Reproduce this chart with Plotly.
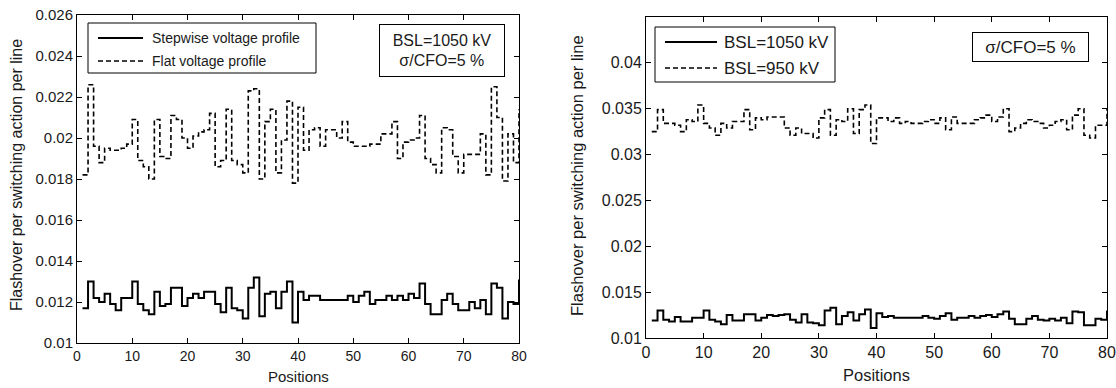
import plotly.graph_objects as go

# ---------------- data ----------------
positions = list(range(1, 81))

flat_profile = [
    0.0182, 0.0226, 0.0196, 0.0188, 0.0195, 0.0194, 0.0194, 0.0195, 0.0197, 0.0209,
    0.0189, 0.0186, 0.0180, 0.0209, 0.0191, 0.0190, 0.0211, 0.0209, 0.0200, 0.0195,
    0.0201, 0.0203, 0.0204, 0.0212, 0.0186, 0.0189, 0.0214, 0.0189, 0.0187, 0.0183,
    0.0223, 0.0224, 0.0180, 0.0208, 0.0214, 0.0183, 0.0199, 0.0218, 0.0178, 0.0215,
    0.0194, 0.0204, 0.0205, 0.0196, 0.0204, 0.0204, 0.0200, 0.0208, 0.0198, 0.0196,
    0.0196, 0.0196, 0.0197, 0.0197, 0.0202, 0.0202, 0.0208, 0.0190, 0.0198, 0.0199,
    0.0200, 0.0211, 0.0190, 0.0187, 0.0183, 0.0205, 0.0204, 0.0191, 0.0183, 0.0192,
    0.0192, 0.0192, 0.0202, 0.0182, 0.0225, 0.0210, 0.0179, 0.0202, 0.0188, 0.0214,
]

stepwise_profile = [
    0.0117, 0.0130, 0.0122, 0.0120, 0.0124, 0.0119, 0.0116, 0.0122, 0.0122, 0.0130,
    0.0119, 0.0116, 0.0114, 0.0125, 0.0118, 0.0119, 0.0127, 0.0127, 0.0118, 0.0122,
    0.0124, 0.0122, 0.0125, 0.0125, 0.0119, 0.0115, 0.0127, 0.0117, 0.0116, 0.0112,
    0.0127, 0.0132, 0.0113, 0.0124, 0.0125, 0.0117, 0.0125, 0.0130, 0.0110, 0.0125,
    0.0121, 0.0123, 0.0123, 0.0121, 0.0121, 0.0121, 0.0121, 0.0121, 0.0123, 0.0120,
    0.0123, 0.0125, 0.0119, 0.0121, 0.0121, 0.0123, 0.0121, 0.0123, 0.0121, 0.0124,
    0.0122, 0.0129, 0.0119, 0.0114, 0.0114, 0.0121, 0.0124, 0.0119, 0.0116, 0.0116,
    0.0120, 0.0117, 0.0121, 0.0114, 0.0129, 0.0127, 0.0112, 0.0120, 0.0119, 0.0131,
]

bsl_950 = [
    0.0325, 0.0349, 0.0334, 0.0334, 0.0332, 0.0325, 0.0338, 0.0336, 0.0354, 0.0334,
    0.0329, 0.0321, 0.0334, 0.0329, 0.0336, 0.0336, 0.0349, 0.0327, 0.0340, 0.0338,
    0.0341, 0.0341, 0.0341, 0.0329, 0.0321, 0.0329, 0.0323, 0.0323, 0.0318, 0.0340,
    0.0349, 0.0321, 0.0338, 0.0336, 0.0350, 0.0323, 0.0349, 0.0354, 0.0312, 0.0340,
    0.0340, 0.0336, 0.0340, 0.0334, 0.0336, 0.0334, 0.0334, 0.0336, 0.0338, 0.0334,
    0.0340, 0.0327, 0.0341, 0.0334, 0.0334, 0.0334, 0.0338, 0.0340, 0.0343, 0.0336,
    0.0341, 0.0350, 0.0325, 0.0329, 0.0334, 0.0338, 0.0336, 0.0334, 0.0329, 0.0332,
    0.0336, 0.0338, 0.0327, 0.0343, 0.0350, 0.0321, 0.0318, 0.0332, 0.0332, 0.0350,
]

bsl_1050 = [
    0.0119, 0.0130, 0.0120, 0.0118, 0.0123, 0.0118, 0.0118, 0.0122, 0.0122, 0.0130,
    0.0120, 0.0118, 0.0115, 0.0125, 0.0119, 0.0119, 0.0126, 0.0126, 0.0119, 0.0122,
    0.0125, 0.0124, 0.0125, 0.0126, 0.0120, 0.0117, 0.0126, 0.0117, 0.0116, 0.0114,
    0.0130, 0.0133, 0.0115, 0.0124, 0.0128, 0.0119, 0.0126, 0.0131, 0.0111, 0.0127,
    0.0123, 0.0124, 0.0122, 0.0122, 0.0122, 0.0122, 0.0122, 0.0124, 0.0122, 0.0121,
    0.0124, 0.0127, 0.0120, 0.0122, 0.0122, 0.0124, 0.0122, 0.0124, 0.0125, 0.0123,
    0.0126, 0.0129, 0.0121, 0.0115, 0.0115, 0.0121, 0.0124, 0.0120, 0.0119, 0.0121,
    0.0119, 0.0122, 0.0116, 0.0129, 0.0128, 0.0114, 0.0114, 0.0121, 0.0120, 0.0130,
]

x_ticks = [0, 10, 20, 30, 40, 50, 60, 70, 80]
x_ticktext = ["0", "10", "20", "30", "40", "50", "60", "70", "80"]
left_y_ticks = [0.01, 0.012, 0.014, 0.016, 0.018, 0.02, 0.022, 0.024, 0.026]
left_y_ticktext = ["0.01", "0.012", "0.014", "0.016", "0.018", "0.02", "0.022", "0.024", "0.026"]
right_y_ticks = [0.01, 0.015, 0.02, 0.025, 0.03, 0.035, 0.04]
right_y_ticktext = ["0.01", "0.015", "0.02", "0.025", "0.03", "0.035", "0.04"]

left_names = ["Stepwise voltage profile", "Flat voltage profile"]
right_names = ["BSL=1050 kV", "BSL=950 kV"]

# ---------------- layout helpers ----------------
W, H = 1116, 388
def px_x(p):
    return p / W
def px_y(p):
    return 1 - p / H

FONT = "Liberation Sans, Arial, sans-serif"
INK = "#1a1a1a"
DASH = "5px,3px"
SOLID_W = 2
DASH_W = 1.6

fig = go.Figure()

fig.add_trace(go.Scatter(x=positions, y=stepwise_profile, mode="lines", line_shape="hv",
                         name=left_names[0], line=dict(color="black", width=SOLID_W),
                         xaxis="x", yaxis="y"))
fig.add_trace(go.Scatter(x=positions, y=flat_profile, mode="lines", line_shape="hv",
                         name=left_names[1], line=dict(color="black", width=DASH_W, dash=DASH),
                         xaxis="x", yaxis="y"))
fig.add_trace(go.Scatter(x=positions, y=bsl_1050, mode="lines", line_shape="hv",
                         name=right_names[0], line=dict(color="black", width=SOLID_W),
                         xaxis="x2", yaxis="y2"))
fig.add_trace(go.Scatter(x=positions, y=bsl_950, mode="lines", line_shape="hv",
                         name=right_names[1], line=dict(color="black", width=DASH_W, dash=DASH),
                         xaxis="x2", yaxis="y2"))

axis_common = dict(showline=True, linecolor="black", linewidth=1, mirror="ticks",
                   ticks="inside", ticklen=5, tickcolor="black", showgrid=False,
                   zeroline=False)

fig.update_layout(
    width=W, height=H,
    autosize=False,
    margin=dict(l=0, r=0, t=0, b=0, pad=0, autoexpand=False),
    paper_bgcolor="white", plot_bgcolor="white",
    font=dict(family=FONT, color=INK),
    showlegend=False,
    xaxis=dict(domain=[px_x(77), px_x(519)], range=[0, 80], anchor="y",
               tickvals=x_ticks, ticktext=x_ticktext, tickfont=dict(size=14), **axis_common),
    yaxis=dict(domain=[px_y(343), px_y(15)], range=[0.01, 0.026], anchor="x",
               tickvals=left_y_ticks, ticktext=left_y_ticktext, tickfont=dict(size=15), **axis_common),
    xaxis2=dict(domain=[px_x(646), px_x(1107)], range=[0, 80], anchor="y2",
                tickvals=x_ticks, ticktext=x_ticktext, tickfont=dict(size=16), **axis_common),
    yaxis2=dict(domain=[px_y(338), px_y(17)], range=[0.01, 0.045], anchor="x2",
                tickvals=right_y_ticks, ticktext=right_y_ticktext, tickfont=dict(size=16), **axis_common),
)

shapes = []
annotations = []

def add_legend_box(x0, x1, y0, y1, sample_x0, sample_x1, rows_y, text_x, names, size):
    shapes.append(dict(type="rect", xref="paper", yref="paper",
                       x0=px_x(x0), x1=px_x(x1), y0=px_y(y1), y1=px_y(y0),
                       line=dict(color="black", width=1), fillcolor="white", layer="above"))
    styles = [dict(color="black", width=SOLID_W), dict(color="black", width=DASH_W, dash=DASH)]
    for ry, name, st in zip(rows_y, names, styles):
        shapes.append(dict(type="line", xref="paper", yref="paper",
                           x0=px_x(sample_x0), x1=px_x(sample_x1), y0=px_y(ry), y1=px_y(ry),
                           line=st, layer="above"))
        annotations.append(dict(text=name, x=px_x(text_x), y=px_y(ry), xref="paper", yref="paper",
                                xanchor="left", yanchor="middle", showarrow=False,
                                font=dict(size=size, color=INK)))

add_legend_box(88, 316, 23, 73, 98, 143, [38, 61], 150, left_names, 14)
add_legend_box(655, 835, 27, 82, 665, 717, [42, 68], 722, right_names, 17)

annotations += [
    # boxed parameter labels
    dict(text="BSL=1050 kV<br>σ/CFO=5 %", x=px_x(442), y=px_y(50.5), xref="paper", yref="paper",
         xanchor="center", yanchor="middle", showarrow=False, font=dict(size=16, color=INK),
         bordercolor="black", borderwidth=1, borderpad=3, bgcolor="white", width=118, height=45),
    dict(text="σ/CFO=5 %", x=px_x(1030.5), y=px_y(47), xref="paper", yref="paper",
         xanchor="center", yanchor="middle", showarrow=False, font=dict(size=17, color=INK),
         bordercolor="black", borderwidth=1, borderpad=3, bgcolor="white", width=109, height=22),
    # axis titles
    dict(text="Positions", x=px_x(298), y=px_y(376), xref="paper", yref="paper",
         xanchor="center", yanchor="middle", showarrow=False, font=dict(size=15, color=INK)),
    dict(text="Positions", x=px_x(876), y=px_y(375), xref="paper", yref="paper",
         xanchor="center", yanchor="middle", showarrow=False, font=dict(size=16.5, color=INK)),
    dict(text="Flashover per switching action per line", x=px_x(17), y=px_y(175), xref="paper",
         yref="paper", xanchor="center", yanchor="middle", showarrow=False, textangle=-90,
         font=dict(size=16, color=INK)),
    dict(text="Flashover per switching action per line", x=px_x(577), y=px_y(176), xref="paper",
         yref="paper", xanchor="center", yanchor="middle", showarrow=False, textangle=-90,
         font=dict(size=16.5, color=INK)),
]
fig.update_layout(shapes=shapes, annotations=annotations)

# remove the default page margin so the figure sits at the window origin
fig.write_html("out.html", config={"displayModeBar": False}, post_script=(
    "document.documentElement.style.margin='0';document.body.style.margin='0';"
    "document.body.style.overflow='hidden';"))
